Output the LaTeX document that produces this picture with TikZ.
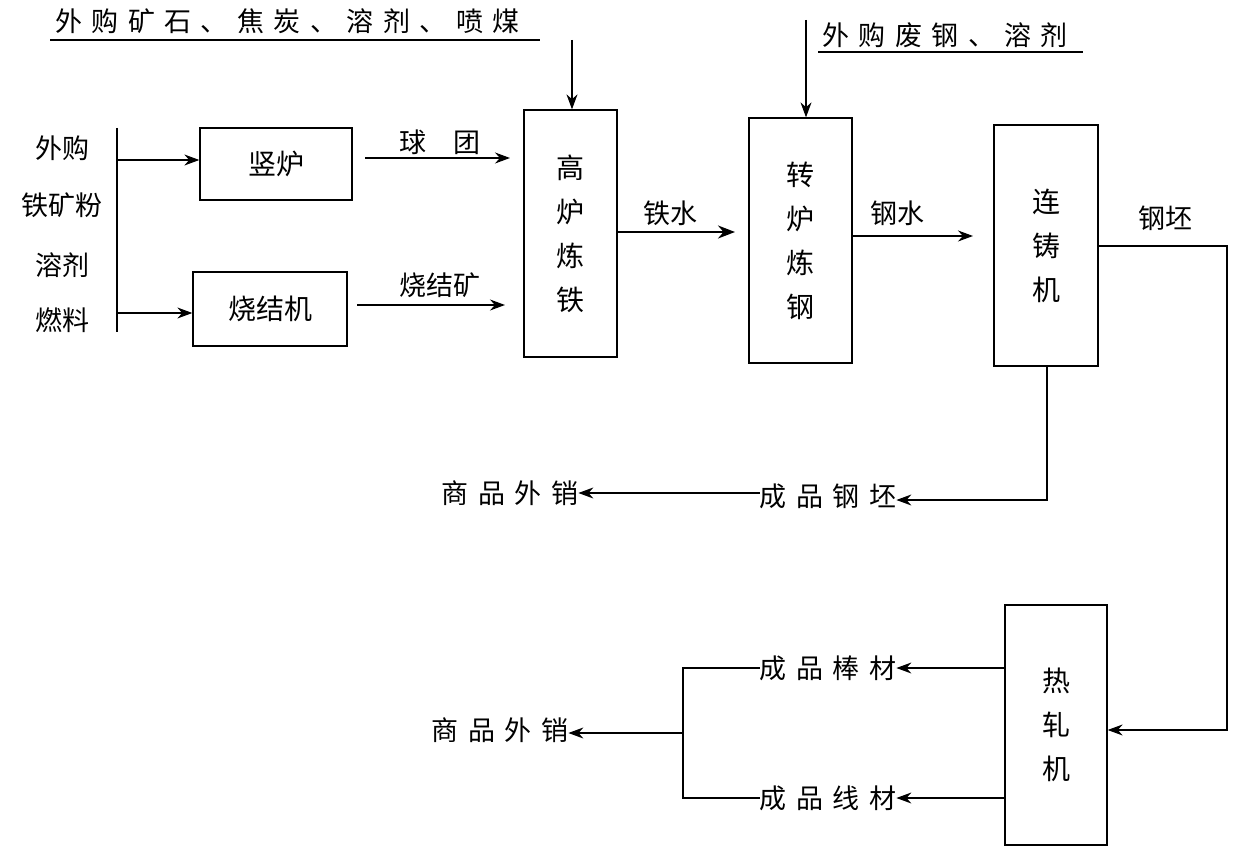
\documentclass[tikz,border=0pt]{standalone}
\usepackage{fontspec}
\setmainfont{Noto Sans CJK SC}
\usetikzlibrary{arrows.meta}
\begin{document}
\begin{tikzpicture}[x=1pt,y=-1pt,
 box/.style={draw,line width=1.3pt,minimum width=0pt,inner sep=0pt},
 arr/.style={line width=1.2pt,-{Stealth[length=15pt,width=11pt]}},
 ln/.style={line width=1.2pt},
 t/.style={font=\fontsize{27}{30}\selectfont\addfontfeature{LetterSpace=35},inner sep=0pt},
 tl/.style={font=\fontsize{27}{30}\selectfont,inner sep=0pt},
 vt/.style={font=\fontsize{28}{44}\selectfont,align=center,inner sep=0pt}]
\useasboundingbox[fill=white] (0,0) rectangle (1254,853);
% top texts
\node[t,anchor=south west] (top1) at (55,34) {外购矿石、焦炭、溶剂、喷煤};
\draw[ln] (50,40) -- (540,40);
\coordinate (a1) at (572,40);
\node[t,anchor=south west] (top2) at (822,48) {外购废钢、溶剂};
\draw[ln] (818,52) -- (1083,52);
\coordinate (a2) at (806,20);
% left column
\node[tl] (l1) at (62,148) {外购};
\node[tl] (l2) at (62,205) {铁矿粉};
\node[tl] (l3) at (62,265) {溶剂};
\node[tl] (l4) at (62,320) {燃料};
\draw[ln] (117,128) -- (117,332);
% boxes
\node[box,minimum width=152pt,minimum height=72pt,vt] (sl) at (276,164) {竖炉};
\node[box,minimum width=154pt,minimum height=74pt,vt] (sj) at (270,309) {烧结机};
\node[box,minimum width=93pt,minimum height=247pt,vt] (gl) at (570.5,233.5) {高\\炉\\炼\\铁};
\node[box,minimum width=103pt,minimum height=245pt,vt] (zl) at (800.5,240.5) {转\\炉\\炼\\钢};
\node[box,minimum width=104pt,minimum height=241pt,vt] (lz) at (1046,245.5) {连\\铸\\机};
\node[box,minimum width=102pt,minimum height=240pt,vt] (rz) at (1056,725) {热\\轧\\机};
% input arrows
\draw[arr] (117,160) -- (sl.west|-117,160);
\draw[arr] (117,313) -- (sj.west|-117,313);
\draw[arr] (a1) -- (gl.north-|572,0);
\draw[arr] (a2) -- (zl.north-|806,0);
% flows
\coordinate (q1) at (365,158); \draw[arr] (q1) -- (510,158);
\node[tl] (qt) at (440,142) {球\hspace{1em}团};
\coordinate (s1) at (357,305); \draw[arr] (s1) -- (505,305);
\node[tl] (st) at (440,285) {烧结矿};
\draw[line width=2.4pt,-{Stealth[length=17pt,width=13pt]}] (gl.east|-0,232) -- (735,232);
\node[tl] (tsh) at (670,213) {铁水};
\draw[arr] (zl.east|-0,236) -- (973,236);
\node[tl] (gsh) at (897,213) {钢水};
\node[tl] (gp) at (1165,218) {钢坯};
\draw[arr] (lz.east|-0,246) -- (1227,246) -- (1227,730) -- (rz.east|-0,730);
% products
\node[t] (cp) at (828,496) {成品钢坯};
\draw[arr] (1047,366) -- (1047,500) -- (cp.east|-0,500);
\node[t] (sx1) at (510,493) {商品外销};
\draw[arr] (cp.west|-0,493) -- (sx1.east|-0,493);
\node[t] (bc) at (828,668) {成品棒材};
\node[t] (xc) at (828,798) {成品线材};
\draw[arr] (rz.west|-0,668) -- (bc.east|-0,668);
\draw[arr] (rz.west|-0,798) -- (xc.east|-0,798);
\draw[ln] (bc.west|-0,668) -- (683,668) -- (683,798) -- (xc.west|-0,798);
\node[t] (sx2) at (500,730) {商品外销};
\draw[arr] (683,733) -- (sx2.east|-0,733);
\end{tikzpicture}
\end{document}
